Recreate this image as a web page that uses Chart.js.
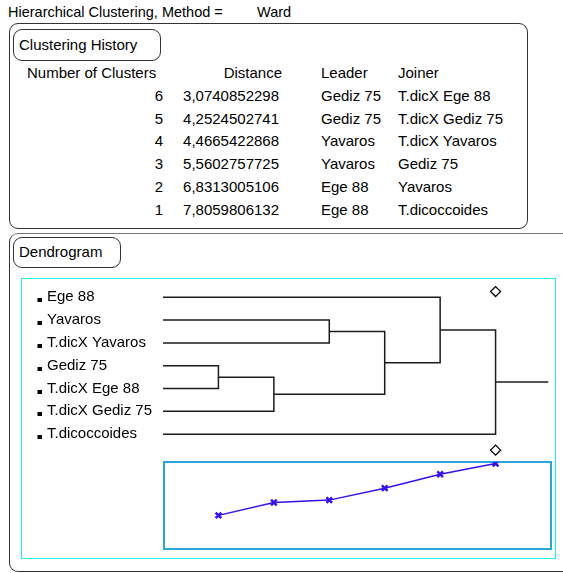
<!DOCTYPE html>
<html>
<head>
<meta charset="utf-8">
<script src="https://cdn.jsdelivr.net/npm/chart.js@4.4.1/dist/chart.umd.min.js"></script>
<style>
  body { margin: 0; width: 563px; height: 573px; overflow: hidden; background: #fff;
         font-family: Arial, "Liberation Sans", sans-serif; font-size: 15px; color: #000; }
  .t { position: absolute; line-height: 16px; white-space: nowrap; }
  .r { text-align: right; }
  .panel { position: absolute; border: 1px solid #333; border-radius: 9px; box-sizing: border-box; }
  canvas { position: absolute; }
</style>
</head>
<body>

<div class="t" style="left:8px;top:4px;font-size:14.5px">Hierarchical Clustering, Method =</div>
<div class="t" style="left:257px;top:4px;font-size:14.5px">Ward</div>

<div class="panel" style="left:9px;top:23px;width:519px;height:206px"></div>
<div class="panel" style="left:13px;top:29px;width:148px;height:32px"></div>
<div class="t" style="left:19px;top:37px">Clustering History</div>
<div id="history"></div>

<div class="panel" style="left:9px;top:233px;width:600px;height:339px;border-top-color:#777"></div>
<div class="panel" style="left:13px;top:237px;width:108px;height:31px"></div>
<div class="t" style="left:19px;top:244px">Dendrogram</div>

<div style="position:absolute;left:21px;top:278px;width:535px;height:281px;border:1px solid #1ef0f0;box-sizing:border-box"></div>
<canvas id="dendro" width="533" height="178" style="left:22px;top:279px"></canvas>
<div style="position:absolute;left:163px;top:461px;width:389px;height:89px;border:2px solid #2aa6de;box-sizing:border-box"></div>
<canvas id="scree" width="408" height="107" style="left:153px;top:452px"></canvas>

<script>
// leaves in dendrogram order
var leafNames = ['Ege 88', 'Yavaros', 'T.dicX Yavaros', 'Gediz 75', 'T.dicX Ege 88', 'T.dicX Gediz 75', 'T.dicoccoides'];

// clustering history
var numClusters = [6, 5, 4, 3, 2, 1];
var distances = [3.0740852298, 4.2524502741, 4.4665422868, 5.5602757725, 6.8313005106, 7.8059806132];
var leaders = ['Gediz 75', 'Gediz 75', 'Yavaros', 'Yavaros', 'Ege 88', 'Ege 88'];
var joiners = ['T.dicX Ege 88', 'T.dicX Gediz 75', 'T.dicX Yavaros', 'Gediz 75', 'Yavaros', 'T.dicoccoides'];

var ink = '#1c1c1c';
var blue = 'rgb(52,18,236)';

// ---- history table ----
var hist = document.getElementById('history');
var put = function(txt, x, top, right) {
  var d = document.createElement('div');
  d.className = 't' + (right ? ' r' : '');
  d.textContent = txt;
  d.style.top = top + 'px';
  if (right) { d.style.left = (x - 200) + 'px'; d.style.width = '200px'; }
  else d.style.left = x + 'px';
  hist.appendChild(d);
};
put('Number of Clusters', 27, 65);
put('Distance', 282, 65, true);
put('Leader', 321, 65);
put('Joiner', 398, 65);
numClusters.forEach(function(n, i) {
  var top = 88 + i * 22.7;
  put(String(n), 163, top, true);
  put(distances[i].toFixed(10).replace('.', ','), 279, top, true);
  put(leaders[i], 321, top);
  put(joiners[i], 398, top);
});

// ---- dendrogram segments built from the history ----
var nodes = {};
leafNames.forEach(function(n, i) { nodes[n] = {x: 0, y: i}; });
var segs = [];
leaders.forEach(function(ld, i) {
  var k = i + 1, L = nodes[ld], J = nodes[joiners[i]];
  segs.push([{x: L.x, y: L.y}, {x: k, y: L.y}, {x: k, y: J.y}, {x: J.x, y: J.y}]);
  nodes[ld] = {x: k, y: (L.y + J.y) / 2};
});
var root = nodes[leaders[leaders.length - 1]];
segs.push([{x: root.x, y: root.y}, {x: 6.95, y: root.y}]);

var lastStep = leafNames.length - numClusters[numClusters.length - 1];

var dsets = segs.map(function(s) {
  return {data: s, showLine: true, borderColor: ink, borderWidth: 1.5, pointRadius: 0, tension: 0};
});
dsets.push({
  data: [{x: lastStep, y: -0.25}, {x: lastStep, y: 6.7}],
  showLine: false, pointStyle: 'rectRot', pointRadius: 5,
  borderColor: '#000', backgroundColor: '#fff', borderWidth: 1.3
});

var leafSquares = {
  id: 'leafSquares',
  afterDraw: function(chart) {
    var c = chart.ctx, ys = chart.scales.y;
    c.save();
    c.fillStyle = '#000';
    leafNames.forEach(function(n, i) {
      var py = ys.getPixelForValue(i);
      c.fillRect(15.5, Math.round(py) + 1, 4.5, 4);
    });
    c.restore();
  }
};

new Chart(document.getElementById('dendro'), {
  type: 'scatter',
  data: {datasets: dsets},
  options: {
    responsive: false, animation: false, devicePixelRatio: 1,
    clip: false,
    layout: {autoPadding: false, padding: {left: 25, right: 4, top: 0, bottom: 0}},
    plugins: {legend: {display: false}, tooltip: {enabled: false}},
    scales: {
      x: {type: 'linear', min: 0, max: 7, display: false},
      y: {
        type: 'linear', min: -0.8, max: 7, reverse: true,
        grid: {display: false}, border: {display: false},
        afterBuildTicks: function(s) { s.ticks = leafNames.map(function(n, i) { return {value: i}; }); },
        afterFit: function(s) { s.width = 116; s.paddingTop = 0; s.paddingBottom = 0; },
        ticks: {
          autoSkip: false, crossAlign: 'far', padding: 0, color: '#000',
          font: {family: 'Arial, "Liberation Sans"', size: 15},
          callback: function(v) { return leafNames[v]; }
        }
      }
    }
  },
  plugins: [leafSquares]
});

// ---- scree plot of join distances ----
new Chart(document.getElementById('scree'), {
  type: 'scatter',
  data: {datasets: [{
    data: numClusters.map(function(n, i) { return {x: leafNames.length - n, y: distances[i]}; }),
    showLine: true, borderColor: blue, borderWidth: 1.5,
    pointStyle: 'crossRot', pointRadius: 4, pointBorderWidth: 2.5, pointBorderColor: blue
  }]},
  options: {
    responsive: false, animation: false, devicePixelRatio: 1,
    layout: {autoPadding: false, padding: 10},
    plugins: {legend: {display: false}, tooltip: {enabled: false}},
    scales: {
      x: {type: 'linear', min: 0, max: 7, display: false},
      y: {type: 'linear', min: 0, max: 7.95, display: false}
    }
  }
});
</script>
</body>
</html>
